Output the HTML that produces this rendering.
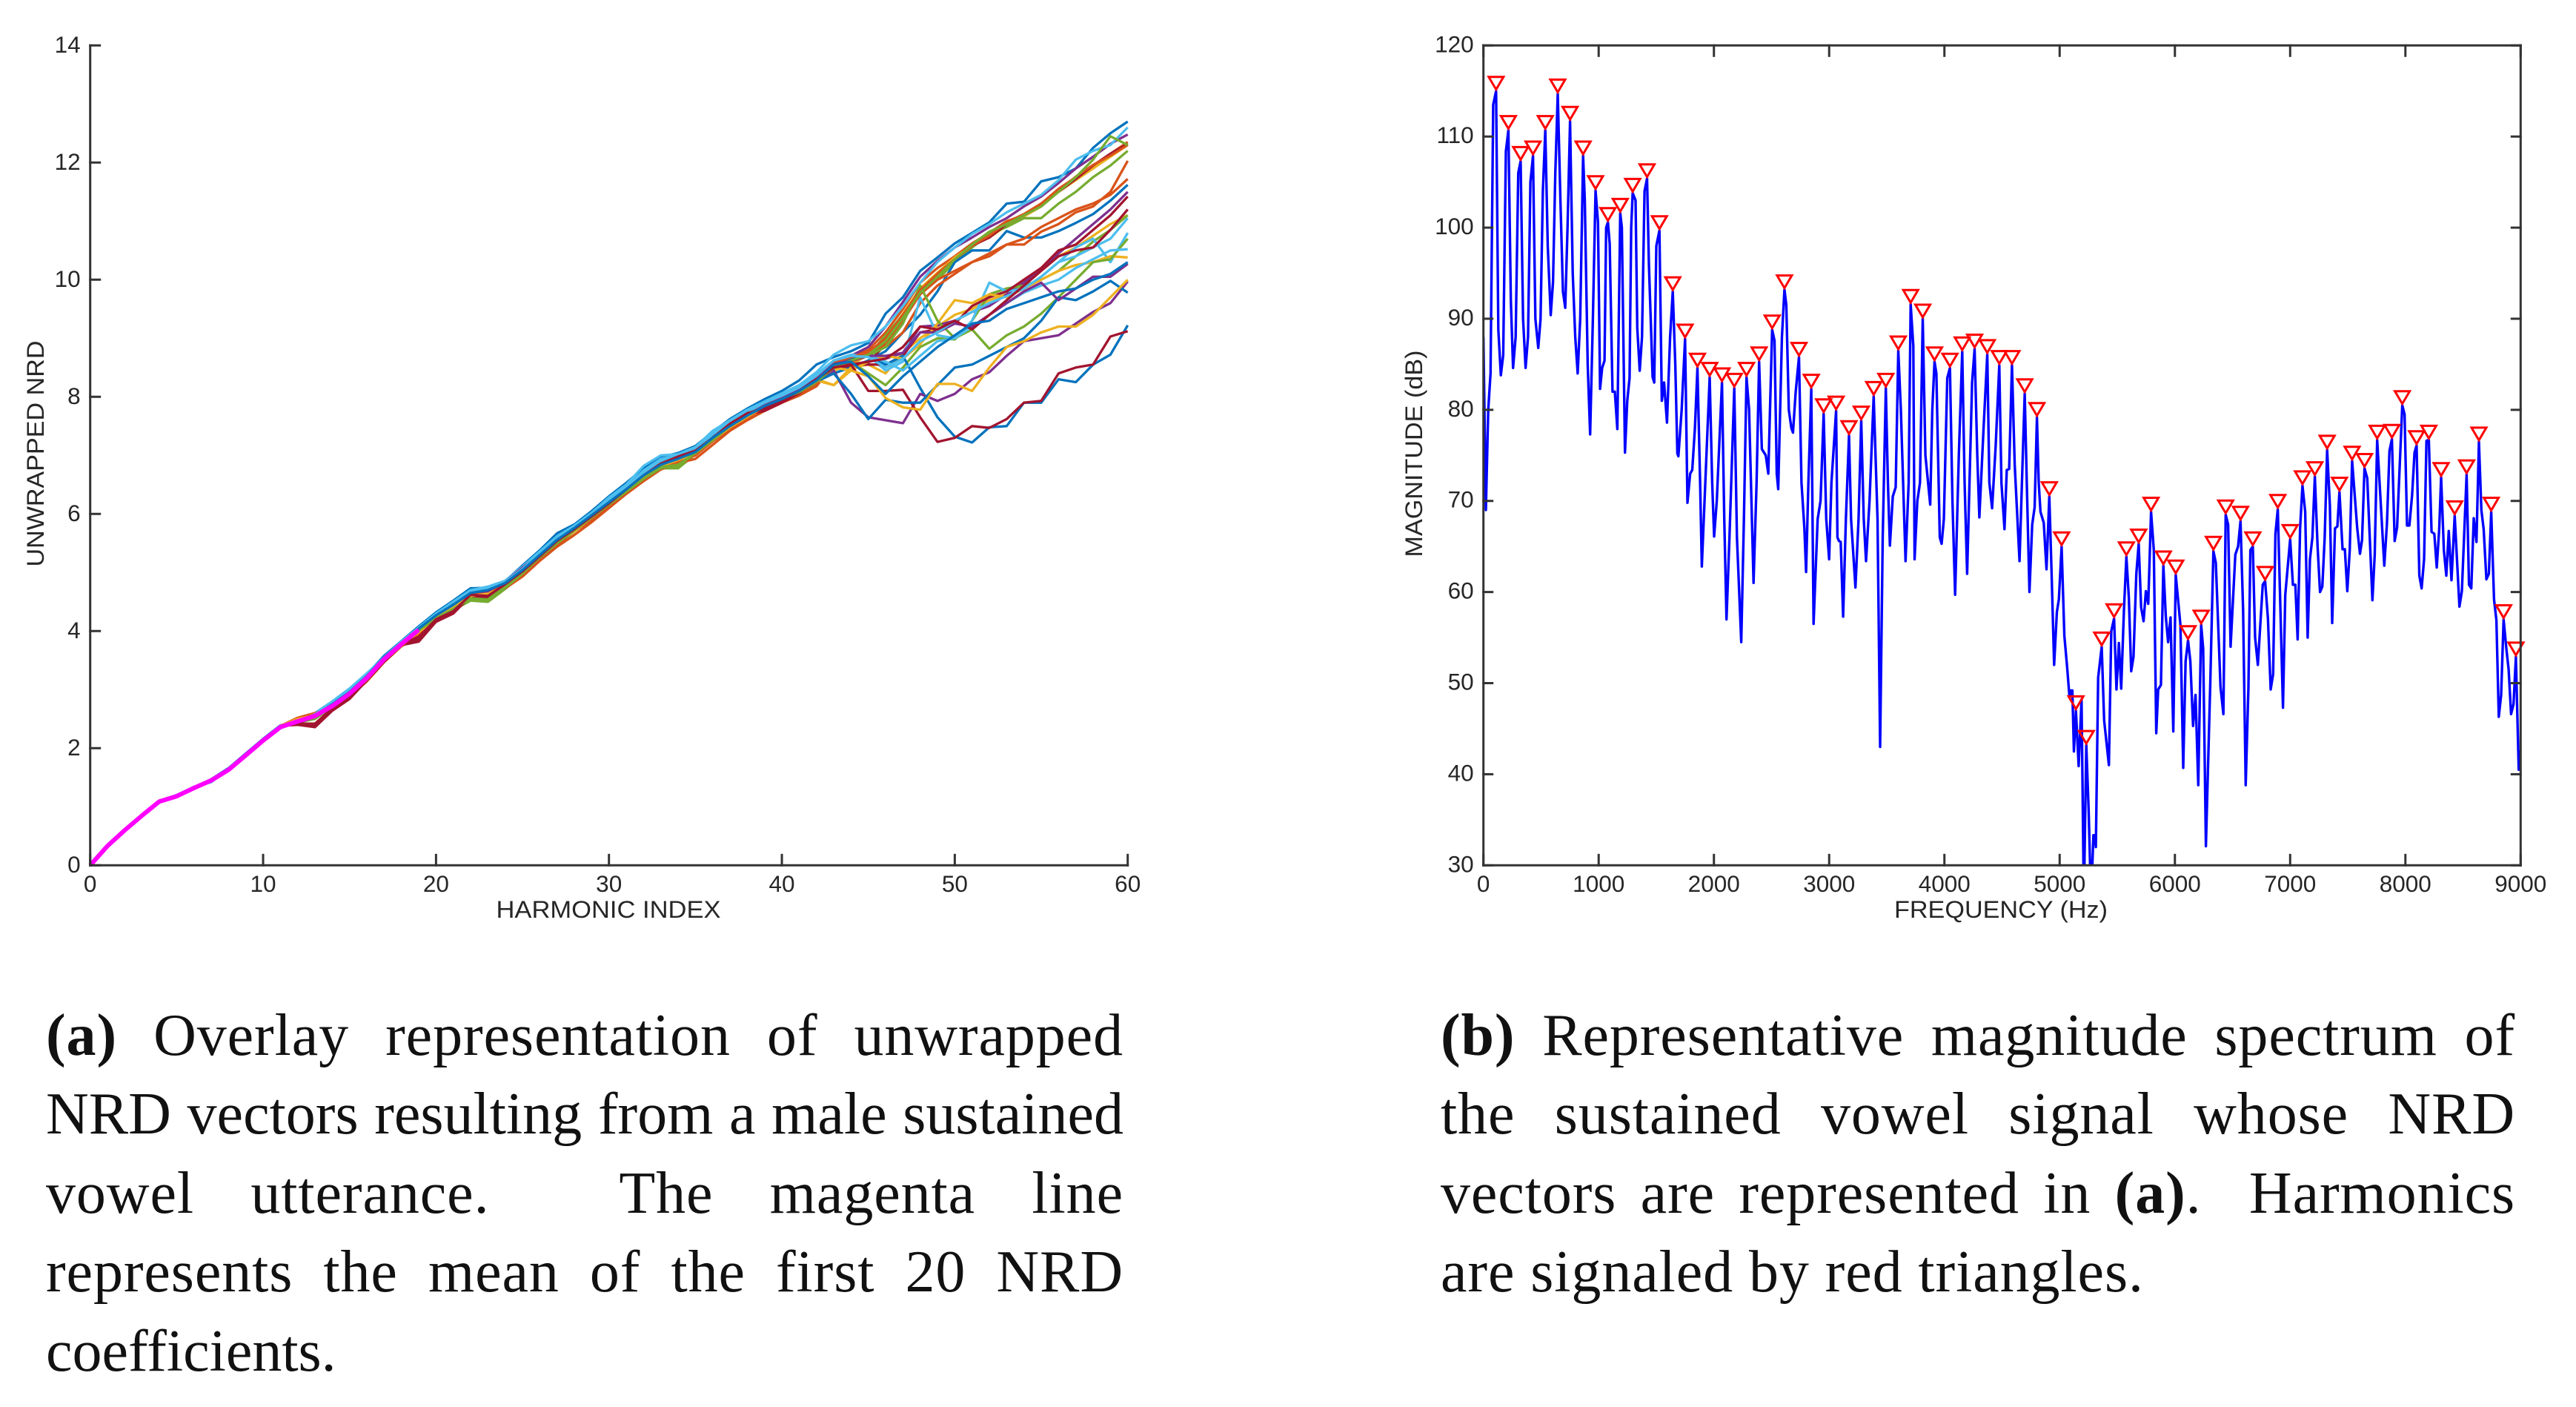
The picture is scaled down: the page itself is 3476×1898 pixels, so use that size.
<!DOCTYPE html>
<html lang="en">
<head>
<meta charset="utf-8">
<title>NRD overlay and magnitude spectrum</title>
<style>
html,body{margin:0;padding:0;background:#fff}
#page{position:relative;width:3476px;height:1898px;background:#fff;overflow:hidden}
svg{position:absolute;left:0;top:0}
svg text{font-family:"Liberation Sans",sans-serif;fill:#262626}
.cap{position:absolute;height:107px;line-height:106.5px;font-family:"Liberation Serif",serif;font-size:80px;letter-spacing:.9px;color:#111;text-align:justify;text-align-last:justify;white-space:nowrap}
.cap.l{left:62px;width:1454px}
.cap.r{left:1944px;width:1450px}
.cap.end{text-align:left;text-align-last:left}
.gap{display:inline-block}
</style>
</head>
<body>
<div id="page">
<svg id="fig" width="3476" height="1898" viewBox="0 0 3476 1898" xmlns="http://www.w3.org/2000/svg"></svg>

<div class="cap l" style="top:1344px"><b>(a)</b> Overlay representation of unwrapped</div>
<div class="cap l" style="top:1450px;letter-spacing:0">NRD vectors resulting from a male sustained</div>
<div class="cap l" style="top:1557px">vowel utterance.<span class="gap" style="width:100px"></span> The magenta line</div>
<div class="cap l" style="top:1663px">represents the mean of the first 20 NRD</div>
<div class="cap l end" style="top:1770px;letter-spacing:0">coefficients.</div>

<div class="cap r" style="top:1344px"><b>(b)</b> Representative magnitude spectrum of</div>
<div class="cap r" style="top:1450px">the sustained vowel signal whose NRD</div>
<div class="cap r" style="top:1557px">vectors are represented in <b>(a)</b>.<span class="gap" style="width:32px"></span> Harmonics</div>
<div class="cap r end" style="top:1663px">are signaled by red triangles.</div>
</div>

<script>
// ---- Chart (a) data ----
const harmonicTicks = [0,10,20,30,40,50,60];
const nrdTicks = [0,2,4,6,8,10,12,14];
const lineColors = ['#0072BD','#D95319','#EDB120','#7E2F8E','#77AC30','#4DBEEE','#A2142F'];
const nrdSeries1 = [0,.33,.6,.85,1.09,1.19,1.33,1.47,1.66,1.91,
2.16,2.39,2.47,2.58,2.78,3.0,3.26,3.58,3.83,4.08,
4.32,4.52,4.73,4.74,4.85,5.12,5.38,5.67,5.82,6.05,
6.3,6.53,6.78,6.97,7.04,7.16,7.4,7.62,7.8,7.96,
8.1,8.28,8.55,8.68,8.78,8.92,9.42,9.7,10.15,10.38,
10.62,10.8,10.98,11.3,11.33,11.68,11.75,11.9,12.25,12.5,12.7];
const nrdSeries2 = [0,.32,.6,.84,1.08,1.18,1.31,1.44,1.62,1.86,
2.12,2.37,2.5,2.56,2.68,2.88,3.16,3.5,3.76,3.97,
4.22,4.38,4.62,4.64,4.76,4.98,5.25,5.5,5.7,5.93,
6.17,6.4,6.62,6.82,6.92,7.0,7.25,7.48,7.66,7.82,
7.95,8.08,8.24,8.6,8.7,8.8,9.1,9.5,9.95,10.2,
10.4,10.62,10.8,11,11.1,11.3,11.55,11.75,11.95,12.15,12.35];
const nrdSeries3 = [0,.33,.61,.85,1.09,1.17,1.32,1.45,1.63,1.87,
2.13,2.38,2.52,2.58,2.7,2.92,3.18,3.5,3.77,4.0,
4.23,4.4,4.6,4.66,4.8,5.02,5.28,5.52,5.73,5.95,
6.18,6.4,6.64,6.84,6.95,7.05,7.28,7.5,7.68,7.84,
7.97,8.1,8.27,8.45,8.55,8.72,9.0,9.42,9.85,10.12,
10.38,10.58,10.72,10.92,11.08,11.25,11.5,11.7,11.9,12.1,12.3];
const nrdSeries4 = [0,.33,.6,.86,1.1,1.19,1.33,1.46,1.64,1.89,
2.14,2.36,2.45,2.52,2.7,2.94,3.22,3.53,3.8,4.05,
4.28,4.45,4.68,4.7,4.84,5.08,5.32,5.58,5.78,6.0,
6.22,6.45,6.68,6.88,6.98,7.1,7.34,7.55,7.72,7.88,
8.0,8.15,8.35,8.58,8.7,8.85,9.2,9.62,10.05,10.32,
10.55,10.72,10.9,11.05,11.25,11.42,11.65,11.9,12.1,12.32,12.48];
const nrdSeries5 = [0,.33,.6,.85,1.09,1.18,1.32,1.44,1.62,1.87,
2.12,2.35,2.44,2.5,2.7,2.92,3.2,3.5,3.76,4.0,
4.2,4.36,4.52,4.5,4.72,4.96,5.24,5.48,5.7,5.92,
6.14,6.36,6.58,6.78,6.78,7.02,7.24,7.46,7.66,7.82,
7.94,8.06,8.22,8.48,8.6,8.7,9.05,9.4,9.75,10.0,
10.3,10.55,10.78,10.9,11.05,11.05,11.3,11.5,11.75,11.95,12.2];
const nrdSeries6 = [0,.33,.61,.86,1.1,1.2,1.34,1.42,1.64,1.9,
2.15,2.38,2.48,2.6,2.8,3.02,3.28,3.55,3.82,4.06,
4.3,4.5,4.7,4.76,4.86,5.1,5.36,5.62,5.8,6.02,
6.28,6.5,6.82,7.0,7.02,7.14,7.42,7.6,7.78,7.92,
8.06,8.2,8.42,8.72,8.88,8.95,9.2,9.55,9.95,10.3,
10.55,10.78,10.95,11.15,11.3,11.45,11.7,12.05,12.2,12.3,12.6];
const nrdSeries7 = [0,.33,.6,.85,1.09,1.18,1.32,1.45,1.63,1.87,
2.12,2.37,2.42,2.38,2.66,2.86,3.18,3.5,3.78,3.84,
4.18,4.32,4.6,4.55,4.78,5.0,5.28,5.52,5.74,5.94,
6.18,6.4,6.66,6.86,6.98,7.08,7.3,7.54,7.72,7.78,
7.92,8.08,8.3,8.5,8.52,8.58,8.9,9.35,9.8,10.1,
10.35,10.58,10.72,10.95,11.1,11.3,11.5,11.72,11.95,12.15,12.32];
const nrdSeries8 = [0,.33,.6,.85,1.09,1.19,1.32,1.43,1.63,1.88,
2.14,2.37,2.46,2.56,2.76,2.96,3.24,3.56,3.8,4.04,
4.28,4.46,4.66,4.72,4.82,5.04,5.3,5.56,5.76,5.98,
6.22,6.44,6.66,6.84,6.94,7.08,7.32,7.5,7.68,7.84,
7.96,8.1,8.26,8.4,8.5,8.62,8.78,9.1,9.4,9.8,
10.3,10.5,10.5,10.83,10.72,10.72,10.83,10.97,11.12,11.35,11.62];
const nrdSeries9 = [0,.33,.6,.85,1.09,1.18,1.32,1.45,1.62,1.86,
2.12,2.38,2.52,2.6,2.72,2.88,3.14,3.47,3.74,3.92,
4.17,4.33,4.56,4.6,4.73,4.93,5.2,5.44,5.64,5.86,
6.1,6.34,6.56,6.76,6.87,6.94,7.18,7.42,7.6,7.76,
7.9,8.02,8.18,8.55,8.65,8.72,8.85,9.1,9.6,9.9,
10.1,10.3,10.45,10.6,10.6,10.82,10.95,11.15,11.25,11.5,12.03];
const nrdSeries10 = [0,.33,.6,.85,1.09,1.18,1.32,1.45,1.63,1.88,
2.13,2.36,2.48,2.56,2.74,2.95,3.22,3.54,3.8,4.02,
4.26,4.42,4.62,4.68,4.82,5.06,5.3,5.56,5.76,5.98,
6.2,6.42,6.64,6.84,6.96,7.06,7.3,7.52,7.7,7.84,
7.98,8.12,8.28,8.2,8.5,8.55,8.4,8.75,9.0,9.2,
9.4,9.5,9.65,9.75,9.95,10.2,10.4,10.55,10.75,10.95,11.1];
const nrdSeries11 = [0,.33,.6,.85,1.09,1.18,1.33,1.46,1.63,1.89,
2.14,2.36,2.44,2.54,2.74,2.96,3.22,3.54,3.8,4.04,
4.28,4.44,4.66,4.62,4.82,5.06,5.32,5.56,5.76,5.98,
6.22,6.44,6.66,6.86,6.98,7.1,7.32,7.54,7.72,7.86,
8.0,8.14,8.32,8.52,8.55,8.6,8.65,8.75,9.2,9.22,
9.3,9.45,9.55,9.75,9.95,10.2,10.45,10.7,10.95,11.2,11.5];
const nrdSeries12 = [0,.33,.6,.85,1.09,1.17,1.32,1.44,1.63,1.87,
2.12,2.35,2.46,2.52,2.7,2.92,3.2,3.52,3.78,4.0,
4.22,4.38,4.58,4.58,4.76,5.0,5.26,5.5,5.72,5.94,
6.16,6.38,6.6,6.78,6.84,7.04,7.26,7.48,7.68,7.82,
7.96,8.08,8.26,8.5,8.6,8.4,8.2,8.5,8.85,9.0,
8.98,9.3,9.75,9.85,9.9,10.0,10.15,10.4,10.65,10.85,11.1];
const nrdSeries13 = [0,.33,.61,.85,1.09,1.19,1.33,1.46,1.64,1.89,
2.14,2.37,2.47,2.57,2.76,2.98,3.24,3.55,3.81,4.05,
4.28,4.46,4.68,4.72,4.86,5.08,5.34,5.6,5.8,6.0,
6.24,6.48,6.72,6.92,7.0,7.12,7.36,7.58,7.76,7.9,
8.02,8.16,8.36,8.6,8.66,8.7,8.45,8.6,9.7,9.05,
9.0,9.3,9.95,9.8,9.85,10.05,10.3,10.55,10.7,10.3,10.8];
const nrdSeries14 = [0,.33,.6,.85,1.09,1.18,1.32,1.45,1.63,1.87,
2.12,2.37,2.42,2.42,2.68,2.88,3.18,3.5,3.78,3.88,
4.2,4.34,4.62,4.58,4.8,5.02,5.28,5.54,5.74,5.96,
6.18,6.42,6.66,6.84,6.96,7.08,7.3,7.52,7.7,7.8,
7.94,8.1,8.3,8.5,8.55,8.55,8.55,8.7,9.1,9.15,
9.25,9.55,9.7,9.8,10.0,10.2,10.5,10.6,10.85,11.1,11.42];
const nrdSeries15 = [0,.33,.6,.85,1.09,1.19,1.33,1.45,1.64,1.89,
2.14,2.37,2.46,2.56,2.76,2.97,3.25,3.56,3.81,4.05,
4.28,4.47,4.68,4.7,4.82,5.06,5.32,5.58,5.78,5.98,
6.22,6.44,6.68,6.88,6.96,7.08,7.3,7.52,7.7,7.86,
7.98,8.14,8.32,8.55,8.65,8.7,8.55,8.7,8.15,7.65,
7.32,7.22,7.48,7.5,7.9,7.9,8.3,8.25,8.55,8.72,9.22];
const nrdSeries16 = [0,.33,.6,.84,1.08,1.17,1.31,1.44,1.62,1.86,
2.11,2.36,2.5,2.58,2.7,2.9,3.16,3.48,3.76,3.96,
4.2,4.38,4.6,4.62,4.74,4.96,5.22,5.48,5.7,5.9,
6.14,6.38,6.6,6.8,6.9,7.0,7.24,7.46,7.64,7.82,
7.94,8.06,8.24,8.5,8.6,8.7,8.9,9.3,9.75,10.0,
10.15,10.3,10.4,10.6,10.7,10.9,11.05,11.2,11.3,11.45,11.72];
const nrdSeries17 = [0,.33,.6,.85,1.09,1.18,1.32,1.45,1.63,1.88,
2.13,2.37,2.5,2.58,2.72,2.94,3.2,3.52,3.79,4.02,
4.24,4.4,4.62,4.64,4.78,5.02,5.28,5.52,5.74,5.96,
6.18,6.4,6.64,6.84,6.96,7.06,7.28,7.5,7.7,7.84,
7.96,8.12,8.3,8.2,8.45,8.6,8.7,8.65,8.9,9.25,
9.65,9.6,9.75,9.7,9.85,10,10.15,10.25,10.3,10.4,10.38];
const nrdSeries18 = [0,.33,.6,.85,1.09,1.18,1.32,1.45,1.63,1.88,
2.13,2.36,2.44,2.52,2.72,2.94,3.2,3.52,3.78,4.02,
4.25,4.4,4.6,4.62,4.8,5.04,5.3,5.54,5.74,5.96,
6.2,6.42,6.64,6.84,6.96,7.06,7.3,7.52,7.7,7.86,
7.98,8.12,8.3,8.45,7.9,7.65,7.6,7.55,8.05,7.93,
8.05,8.3,8.42,8.7,8.95,9,9.05,9.25,9.45,9.6,9.97];
const nrdSeries19 = [0,.33,.6,.85,1.09,1.18,1.32,1.44,1.62,1.87,
2.12,2.36,2.45,2.53,2.7,2.91,3.18,3.5,3.76,3.99,
4.22,4.36,4.54,4.52,4.74,4.98,5.26,5.5,5.7,5.94,
6.16,6.38,6.6,6.8,6.82,7.04,7.26,7.48,7.66,7.82,
7.96,8.1,8.28,8.55,8.62,8.7,8.85,9.25,9.9,9.3,
9.0,9.15,8.82,9.05,9.2,9.42,9.7,10.0,10.3,10.35,10.7];
const nrdSeries20 = [0,.33,.61,.86,1.09,1.19,1.34,1.44,1.64,1.9,
2.15,2.37,2.47,2.58,2.78,3.0,3.26,3.56,3.82,4.06,
4.3,4.48,4.7,4.74,4.86,5.08,5.36,5.6,5.8,6.02,
6.26,6.46,6.74,6.94,7.0,7.12,7.38,7.58,7.76,7.92,
8.04,8.18,8.38,8.62,8.72,8.7,8.6,8.45,8.7,8.95,
9.0,9.2,9.4,9.6,9.78,9.9,10.0,10.2,10.35,10.5,10.52];
const nrdSeries21 = [0,.33,.6,.85,1.09,1.18,1.32,1.45,1.63,1.87,
2.12,2.38,2.4,2.36,2.64,2.84,3.16,3.48,3.76,3.82,
4.16,4.3,4.6,4.56,4.78,5.0,5.26,5.5,5.72,5.92,
6.16,6.38,6.64,6.84,6.96,7.08,7.28,7.52,7.7,7.76,
7.9,8.06,8.3,8.5,8.55,8.1,8.1,8.12,7.65,7.23,
7.3,7.5,7.47,7.62,7.9,7.93,8.4,8.5,8.55,9.03,9.12];
const nrdSeries22 = [0,.33,.6,.85,1.09,1.18,1.32,1.43,1.63,1.88,
2.13,2.36,2.46,2.55,2.74,2.96,3.22,3.54,3.79,4.03,
4.26,4.44,4.64,4.7,4.82,5.06,5.32,5.58,5.76,5.98,
6.2,6.42,6.66,6.86,6.96,7.08,7.32,7.52,7.7,7.84,
7.96,8.08,8.26,8.4,8.05,7.62,7.95,7.9,7.9,8.2,
8.5,8.55,8.7,8.85,9.0,9.3,9.7,9.65,9.8,9.98,9.78];
const nrdSeries23 = [0,.33,.6,.85,1.09,1.18,1.31,1.44,1.62,1.86,
2.12,2.37,2.51,2.57,2.7,2.9,3.17,3.5,3.75,3.96,
4.22,4.37,4.61,4.65,4.78,5.0,5.26,5.5,5.71,5.92,
6.16,6.39,6.62,6.82,6.93,7.02,7.26,7.48,7.66,7.82,
7.96,8.08,8.24,8.58,8.68,8.76,9.0,9.4,9.82,10.1,
10.35,10.58,10.75,10.98,11.12,11.3,11.52,11.76,11.96,12.12,12.3];
const nrdSeries24 = [0,.33,.6,.85,1.09,1.18,1.32,1.45,1.62,1.87,
2.12,2.38,2.5,2.56,2.7,2.9,3.18,3.5,3.77,3.98,
4.22,4.4,4.6,4.64,4.76,5.0,5.26,5.52,5.7,5.94,
6.16,6.38,6.62,6.82,6.92,7.04,7.26,7.48,7.66,7.84,
7.98,8.1,8.26,8.5,8.45,8.35,7.98,7.82,7.78,8.22,
8.22,8.1,8.5,8.85,8.95,9.1,9.2,9.2,9.4,9.7,10.0];
const nrdSeries25 = [0,.33,.6,.85,1.09,1.19,1.33,1.46,1.64,1.89,
2.14,2.36,2.44,2.53,2.73,2.95,3.23,3.54,3.8,4.03,
4.27,4.46,4.66,4.68,4.84,5.08,5.32,5.56,5.76,6.0,
6.22,6.44,6.68,6.86,6.98,7.1,7.32,7.54,7.72,7.86,
8.0,8.14,8.34,8.56,8.62,8.7,8.7,8.75,9.1,9.1,
9.25,9.2,9.4,9.6,9.8,9.95,9.65,9.85,10.05,10.05,10.27];
const nrdSeries26 = [0,.33,.6,.85,1.09,1.18,1.32,1.44,1.63,1.87,
2.12,2.36,2.45,2.52,2.72,2.93,3.2,3.51,3.77,4.01,
4.22,4.38,4.56,4.54,4.76,5.0,5.26,5.5,5.72,5.94,
6.16,6.38,6.6,6.8,6.84,7.04,7.26,7.5,7.68,7.84,
7.96,8.08,8.26,8.5,8.62,8.72,8.95,9.35,9.78,10.05,
10.35,10.6,10.82,10.95,11.1,11.25,11.5,11.75,12.05,12.45,12.3];
const nrdSeries27 = [0,.33,.61,.85,1.09,1.19,1.33,1.43,1.64,1.89,
2.14,2.37,2.47,2.57,2.76,2.98,3.24,3.56,3.81,4.04,
4.28,4.46,4.68,4.72,4.84,5.06,5.34,5.58,5.78,6.0,
6.24,6.46,6.7,6.9,6.98,7.1,7.36,7.56,7.74,7.9,
8.02,8.16,8.36,8.62,8.7,8.68,8.5,8.65,8.95,9.1,
9.3,9.45,9.6,9.72,9.85,10.05,10.3,10.4,10.55,10.7,11.05];
const nrdSeries28 = [0,.33,.6,.85,1.09,1.18,1.32,1.45,1.63,1.87,
2.12,2.37,2.43,2.4,2.68,2.88,3.18,3.5,3.78,3.9,
4.2,4.34,4.62,4.6,4.8,5.02,5.28,5.54,5.74,5.96,
6.18,6.42,6.66,6.86,6.98,7.08,7.3,7.54,7.72,7.8,
7.94,8.1,8.3,8.5,8.55,8.6,8.65,8.85,9.2,9.15,
9.3,9.15,9.4,9.65,9.9,10.15,10.4,10.5,10.55,10.85,11.2];
const nrdSeries29 = [0,.33,.6,.85,1.09,1.18,1.32,1.44,1.63,1.88,
2.13,2.37,2.46,2.56,2.75,2.96,3.23,3.55,3.8,4.04,
4.27,4.45,4.65,4.7,4.82,5.04,5.3,5.56,5.76,5.98,
6.2,6.42,6.66,6.84,6.94,7.06,7.3,7.5,7.68,7.84,
7.96,8.1,8.28,8.55,8.6,8.35,8.05,8.35,8.6,8.85,
9.05,9.25,9.3,9.5,9.6,9.7,9.8,9.85,10.0,10.1,10.3];
const nrdMean = [0,.33,.6,.85,1.09,1.18,1.32,1.45,1.63,1.88,2.13,2.36,2.46,2.55,2.72,2.93,3.2,3.52,3.78,4.02];
const nrdSeriesList = [nrdSeries1,nrdSeries2,nrdSeries3,nrdSeries4,nrdSeries5,nrdSeries6,nrdSeries7,nrdSeries8,nrdSeries9,nrdSeries10,nrdSeries11,nrdSeries12,nrdSeries13,nrdSeries14,nrdSeries15,nrdSeries16,nrdSeries17,nrdSeries18,nrdSeries19,nrdSeries20,nrdSeries21,nrdSeries22,nrdSeries23,nrdSeries24,nrdSeries25,nrdSeries26,nrdSeries27,nrdSeries28,nrdSeries29];

// ---- Chart (b) data ----
const freqTicks = [0,1000,2000,3000,4000,5000,6000,7000,8000,9000];
const magTicks = [30,40,50,60,70,80,90,100,110,120];
const spectrumHz = [0,21,42,62,85,110,
129,151,172,195,217,
238,257,280,302,323,
344,366,387,408,430,
451,476,496,516,537,
558,584,604,624,645,
668,690,710,730,752,
775,797,818,840,865,880,
905,926,950,973,994,
1012,1030,1051,1065,1080,1096,
1120,1140,1162,1187,1201,
1228,1248,1268,1282,1295,1320,
1335,1356,1376,1398,1420,
1436,1468,1482,1500,1527,
1548,1568,1593,1620,1643,
1665,1683,1692,1720,1750,
1770,1794,1812,1835,1857,
1880,1895,1925,1963,
1985,2002,2025,2070,
2090,2109,2135,2177,
2200,2237,2260,2283,
2305,2344,2370,2392,
2416,2450,2472,2505,
2526,2545,2558,2590,2612,
2628,2650,2672,2686,2710,2738,
2760,2785,2800,2820,2845,
2865,2900,2925,2952,
2975,3000,3020,3060,
3072,3085,3100,3121,3145,3172,
3190,3228,3255,3278,
3300,3320,3350,3386,
3420,3442,3465,3492,
3510,3527,3552,3577,3600,
3622,3663,3690,3707,
3730,3741,3765,3788,3812,
3835,3877,3895,3914,
3930,3960,3976,3995,4025,4048,
4070,4093,4125,4155,
4175,4197,4240,4262,
4285,4303,4340,4372,
4390,4414,4445,4476,
4495,4521,4541,4562,4586,
4610,4652,4680,4697,
4715,4738,4762,4783,4803,
4818,4834,4862,4886,4910,
4930,4952,4976,4993,5017,
5041,5065,5086,5098,5110,5124,5141,
5165,5190,5210,5231,
5252,5272,5293,5305,5314,5334,5365,
5386,5427,5448,5472,
5493,5514,5534,5558,5579,
5600,5621,5641,5665,5686,
5707,5728,5748,5769,5793,
5817,5838,5855,5879,5900,
5921,5941,5962,5986,6007,
6048,6072,6093,6114,
6134,6158,6179,6203,6228,
6245,6269,6307,6334,
6355,6396,6421,6441,
6462,6483,6524,6548,6569,
6592,6614,6638,6655,6676,
6696,6720,6762,6783,
6807,6831,6852,6872,6893,
6938,6958,7000,
7024,7045,7065,7086,7107,
7131,7152,7172,7193,7214,
7238,7259,7279,7300,7321,
7345,7365,7389,7410,7428,
7455,7475,7496,7517,7538,
7582,7606,7624,7645,
7669,7714,7734,7755,
7778,7817,7840,7862,7883,
7907,7928,7973,
7993,8014,8035,8058,8079,8097,
8121,8141,8162,8183,8203,
8227,8251,8272,8293,8310,
8334,8355,8376,8400,8428,
8469,8490,8531,
8552,8572,8593,8617,8638,
8659,8679,8703,8724,8745,
8769,8790,8810,8831,8852,
8876,8896,8917,8938,8959,
8983,9000];
const spectrumDb = [88,69,80,84,113.5,115,
88.8,83.8,86,108.4,110.7,
92,84.6,88,106,107.3,
90,84.6,88,105,107.9,
90,86.8,90,104,110.7,
98,90.4,94,106,114.7,
103,93,91.2,100,111.7,
95,88,84,90,107.9,103,
85,77.3,90,104.1,100.6,
82.3,84.6,85.4,100,100.6,98.2,
82,82,77.9,101.6,100,
75.3,81,83.5,100,103.8,103,
89,84.3,88,104,105.4,
96,83.6,83,98,99.7,
81,83,78.6,88,93,
85,75.2,74.9,80,87.8,
69.8,73,73.4,78,84.6,
72,62.8,72,83.6,
72,66.1,70,83,
68,57,66,82.4,
66,54.5,68,83.6,
80,61,72,85.3,
75.7,75,73,88.8,
87.6,73,71.3,88,93.2,
91.5,80,78,77.5,82,85.8,
72,67,62.2,72,82.3,
56.5,68,70,79.6,
68,63.6,72,79.9,
66,65.6,65.5,57.3,68,77.2,
68,60.5,68,78.8,
68,63.4,70,81.5,
68,43,66,82.4,
72,65.1,70.5,71.5,86.5,
80,63.4,72,91.6,
87,63.6,70,72,90,
75,69.6,80,85.3,
84,66,65.3,68,83.5,84.6,
70,59.7,75,86.4,
72,62,83,86.7,
75,68.2,78,86.1,
72,69.2,76,84.9,
72,66.9,73.4,73.5,84.9,
74,63.4,75,81.8,
72,60,67.4,69.3,79.2,
72,68.8,67.6,62.5,70.5,
62,52,57.8,59.2,65,
55.2,51.7,48.4,49.2,49.2,42.5,47,
40.9,48.2,26,43.2,
36,26,33.3,33.3,32,50.6,54,
45.9,41,55.7,57.1,
49.3,54.4,49.4,58,63.9,
59.4,51.3,52.9,62,65.3,
58.3,56.8,60.1,58.7,68.8,
64.6,44.5,49.3,49.8,62.9,
57.3,54.5,57.2,44.7,61.9,
56.4,40.7,52.4,54.7,
52.4,45.3,48.7,38.8,56.4,
53.8,32.1,50,64.5,
63.2,49.6,46.6,68.5,
67.4,54,64.1,65,67.8,
58,38.8,49.6,64.6,65,
55,52,60.8,61.2,
57.1,49.3,51,66.4,69.1,
47.3,59.7,65.8,
60.8,60.8,54.8,67,71.7,
68.8,55,63.6,66,72.7,
65,60,60.6,66,75.6,
69.5,56.6,67,67.2,71,
64.7,64.7,60.1,64.6,74.4,
67,64.2,65.7,73.6,
72.5,59.1,64.1,76.7,
71.5,62.9,67.5,75.5,76.8,
65.6,67.1,80.5,
79.5,67.3,67.3,70.6,75.3,76.1,
61.8,60.4,63.6,76.6,76.7,
66.6,66.4,62.7,66.9,72.6,
64.6,61.8,66.7,61.3,68.4,
58.4,60.1,72.9,
60.8,60.4,68.1,65.5,76.5,
69,66.9,61.4,62,68.8,
59.2,56.9,46.3,48.7,57,
53.8,51.5,46.6,47.7,52.9,
40.5,42.6];
const harmonicHz = [110,217,323,430,537,645,752,865,973,1080,1187,1295,1420,1527,1643,1750,1857,1963,2070,2177,2283,2392,2505,2612,2738,2845,2952,3060,3172,3278,3386,3492,3600,3707,3812,3914,4048,4155,4262,4372,4476,4586,4697,4803,4910,5017,5141,5231,5365,5472,5579,5686,5793,5900,6007,6114,6228,6334,6441,6569,6676,6783,6893,7000,7107,7214,7321,7428,7538,7645,7755,7883,7973,8097,8203,8310,8428,8531,8638,8745,8852,8959];
const harmonicDb = [115,110.7,107.3,107.9,110.7,114.7,111.7,107.9,104.1,100.6,101.6,103.8,105.4,99.7,93,87.8,84.6,83.6,83,82.4,83.6,85.3,88.8,93.2,85.8,82.3,79.6,79.9,77.2,78.8,81.5,82.4,86.5,91.6,90,85.3,84.6,86.4,86.7,86.1,84.9,84.9,81.8,79.2,70.5,65,47,43.2,54,57.1,63.9,65.3,68.8,62.9,61.9,54.7,56.4,64.5,68.5,67.8,65,61.2,69.1,65.8,71.7,72.7,75.6,71,74.4,73.6,76.7,76.8,80.5,76.1,76.7,72.6,68.4,72.9,76.5,68.8,57,52.9];

// ---- Layout & scales ----
const NS = 'http://www.w3.org/2000/svg';
const fig = document.getElementById('fig');
const plotTop = 61.3, plotBottom = 1167.3;
const aLeft = 121.7, aRight = 1521.7;
const bLeft = 2001.7, bRight = 3401.3;
const xA = v => aLeft + (v - 0) / 60 * (aRight - aLeft);
const yA = v => plotBottom - (v - 0) / 14 * (plotBottom - plotTop);
const xB = v => bLeft + (v - 0) / 9000 * (bRight - bLeft);
const yB = v => plotBottom - (v - 30) / 90 * (plotBottom - plotTop);

function mk(tag, attrs, parent) {
  const el = document.createElementNS(NS, tag);
  for (const k in attrs) el.setAttribute(k, attrs[k]);
  (parent || fig).appendChild(el);
  return el;
}
function axisLine(x1, y1, x2, y2, name) {
  const el = mk('line', {x1, y1, x2, y2, stroke: '#333', 'stroke-width': 3, 'stroke-linecap': 'square'});
  
  
  return el;
}
function label(x, y, str, anchor, size, name) {
  const el = mk('text', {x, y, 'text-anchor': anchor, 'font-size': size});
  el.textContent = str;
  
  
  return el;
}

// clip for the spectrum
const defs = mk('defs', {});
const clip = mk('clipPath', {id: 'specClip'}, defs);
mk('rect', {x: bLeft, y: plotTop, width: bRight - bLeft, height: plotBottom - plotTop}, clip);

// ---- Chart (a) ----
const gA = mk('g', {});


nrdSeriesList.forEach((s, i) => {
  const pts = s.map((v, k) => xA(k).toFixed(1) + ',' + yA(v).toFixed(1)).join(' ');
  const line = mk('polyline', {points: pts, fill: 'none', stroke: lineColors[i % lineColors.length], 'stroke-width': 3.3, 'stroke-linejoin': 'round'}, gA);
  
  
});
const meanLine = mk('polyline', {points: nrdMean.map((v, k) => xA(k).toFixed(1) + ',' + yA(v).toFixed(1)).join(' '), fill: 'none', stroke: '#FF00FF', 'stroke-width': 6, 'stroke-linejoin': 'round'}, gA);



axisLine(aLeft, plotTop, aLeft, plotBottom, 'nrd-y-axis');
axisLine(aLeft, plotBottom, aRight, plotBottom, 'harmonic-x-axis');
harmonicTicks.forEach(t => {
  axisLine(xA(t), plotBottom, xA(t), plotBottom - 14, 'harmonic-x-tick');
  label(xA(t), 1203, String(t), 'middle', 31.5, 'harmonic-x-tick-label');
});
nrdTicks.forEach(t => {
  axisLine(aLeft, yA(t), aLeft + 13, yA(t), 'nrd-y-tick');
  label(aLeft - 13, yA(t) + 9.5, String(t), 'end', 31.5, 'nrd-y-tick-label');
});
const xTitleA = label(821, 1238, 'HARMONIC INDEX', 'middle', 32, 'x-axis-title-harmonic-index');
xTitleA.setAttribute('textLength', '303');
xTitleA.setAttribute('lengthAdjust', 'spacingAndGlyphs');
const yTitleA = label(0, 0, 'UNWRAPPED NRD', 'middle', 32, 'y-axis-title-unwrapped-nrd');
yTitleA.setAttribute('transform', 'translate(59,612) rotate(-90)');
yTitleA.setAttribute('textLength', '305');
yTitleA.setAttribute('lengthAdjust', 'spacingAndGlyphs');

// ---- Chart (b) ----
const gB = mk('g', {});


const specLine = mk('polyline', {points: spectrumHz.map((f, k) => xB(f).toFixed(1) + ',' + yB(spectrumDb[k]).toFixed(1)).join(' '), fill: 'none', stroke: '#0000FF', 'stroke-width': 3.4, 'stroke-linejoin': 'round', 'clip-path': 'url(#specClip)'}, gB);


harmonicHz.forEach((f, k) => {
  const cx = xB(f), ty = yB(harmonicDb[k]);
  const tri = mk('path', {d: 'M' + (cx - 10).toFixed(1) + ' ' + (ty - 19).toFixed(1) + 'H' + (cx + 10).toFixed(1) + 'L' + cx.toFixed(1) + ' ' + (ty - 2).toFixed(1) + 'Z', fill: 'none', stroke: '#FF0000', 'stroke-width': 3, 'stroke-linejoin': 'miter'}, gB);
  
  
});
axisLine(bLeft, plotTop, bLeft, plotBottom, 'magnitude-y-axis');
axisLine(bLeft, plotBottom, bRight, plotBottom, 'frequency-x-axis');
axisLine(bLeft, plotTop, bRight, plotTop, 'plot-top-border');
axisLine(bRight, plotTop, bRight, plotBottom, 'plot-right-border');
freqTicks.forEach(t => {
  axisLine(xB(t), plotBottom, xB(t), plotBottom - 14, 'frequency-x-tick');
  axisLine(xB(t), plotTop, xB(t), plotTop + 14, 'frequency-top-tick');
  label(xB(t), 1203, String(t), 'middle', 31.5, 'frequency-x-tick-label');
});
magTicks.forEach(t => {
  axisLine(bLeft, yB(t), bLeft + 12, yB(t), 'magnitude-y-tick');
  axisLine(bRight, yB(t), bRight - 12, yB(t), 'magnitude-right-tick');
  label(bLeft - 13, yB(t) + 9, String(t), 'end', 31.5, 'magnitude-y-tick-label');
});
const xTitleB = label(2700, 1238, 'FREQUENCY (Hz)', 'middle', 32, 'x-axis-title-frequency');
xTitleB.setAttribute('textLength', '288');
xTitleB.setAttribute('lengthAdjust', 'spacingAndGlyphs');
const yTitleB = label(0, 0, 'MAGNITUDE (dB)', 'middle', 32, 'y-axis-title-magnitude');
yTitleB.setAttribute('transform', 'translate(1919,612) rotate(-90)');
yTitleB.setAttribute('textLength', '279');
yTitleB.setAttribute('lengthAdjust', 'spacingAndGlyphs');
</script>
</body>
</html>
